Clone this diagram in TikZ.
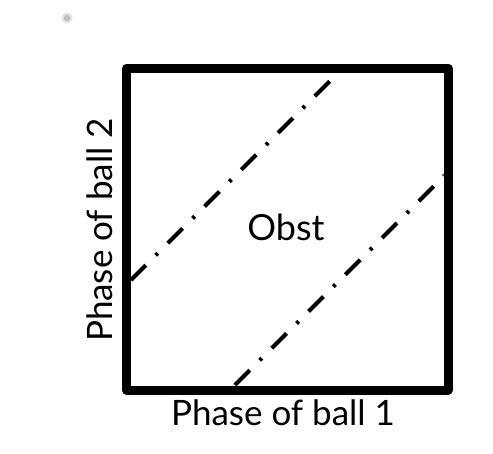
\documentclass[tikz,border=0pt]{standalone}
\usepackage{fontspec}
\setmainfont{Lato}
\tikzset{
  framebox/.style={line width=9pt, line join=round},
  dashdot/.style={line width=4pt, dash pattern=on 21pt off 14pt on 3pt off 14pt},
  lbl/.style={inner sep=0pt, font=\fontsize{35}{35}\selectfont},
}
\begin{document}
\begin{tikzpicture}[x=1pt,y=-1pt]
\useasboundingbox (0,0) rectangle (493,453);
\coordinate (bl) at (126.5,390);
\coordinate (tr) at (448,68);
\begin{scope}
\clip (131,385.5) rectangle (443.5,72.5);
\draw[dashdot] (131,280) -- (345,66);
\draw[dashdot] (235,385) -- (449,171);
\end{scope}
\draw[framebox] (bl) rectangle (tr);
\node[lbl, font=\fontsize{36}{36}\selectfont] (obst) at (286,227) {Obst};
\node[lbl] (xl) at (283,413) {Phase of ball 1};
\node[lbl, rotate=90] (yl) at (100,230) {Phase of ball 2};
\node[circle, draw=gray!20, line width=2pt, fill=gray!50, inner sep=0pt, minimum size=9pt] (radio) at (67,18) {};
\end{tikzpicture}
\end{document}
